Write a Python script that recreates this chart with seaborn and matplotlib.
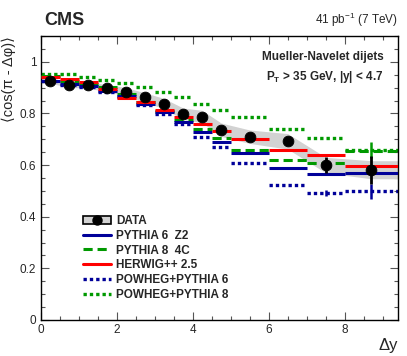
import numpy as np
import matplotlib
matplotlib.use('Agg')
import matplotlib.pyplot as plt
import seaborn as sns
from matplotlib.lines import Line2D
from matplotlib.patches import Patch
from matplotlib.ticker import MultipleLocator, FormatStrFormatter


# bins in delta y
edges = [0, 0.5, 1, 1.5, 2, 2.5, 3, 3.5, 4, 4.5, 5, 6, 7, 8, 9.4]

data = [0.927, 0.911, 0.910, 0.898, 0.884, 0.862, 0.838, 0.799, 0.788, 0.737, 0.710, 0.692, 0.600, 0.582]
dataErr = [0.003, 0.003, 0.003, 0.003, 0.004, 0.004, 0.005, 0.005, 0.006, 0.007, 0.008, 0.015, 0.03, 0.055]
dataSyst = [0.010, 0.010, 0.012, 0.014, 0.016, 0.018, 0.020, 0.022, 0.024, 0.026, 0.026, 0.030, 0.030, 0.035]

pythia6 = [0.927, 0.916, 0.907, 0.886, 0.868, 0.837, 0.804, 0.766, 0.727, 0.691, 0.646, 0.590, 0.564, 0.571]
pythia8 = [0.945, 0.926, 0.914, 0.903, 0.876, 0.845, 0.810, 0.775, 0.740, 0.705, 0.660, 0.620, 0.607, 0.655]
herwig = [0.940, 0.932, 0.921, 0.893, 0.861, 0.843, 0.815, 0.788, 0.759, 0.732, 0.700, 0.658, 0.640, 0.597]
powhegP6 = [0.924, 0.912, 0.904, 0.883, 0.864, 0.834, 0.799, 0.758, 0.710, 0.669, 0.609, 0.524, 0.492, 0.498]
powhegP8 = [0.952, 0.952, 0.942, 0.930, 0.918, 0.901, 0.882, 0.862, 0.837, 0.813, 0.785, 0.741, 0.704, 0.658]
powhegP6Err = [0, 0, 0, 0, 0, 0, 0, 0, 0, 0, 0, 0, 0.01, 0.03]
powhegP8Err = [0, 0, 0, 0, 0, 0, 0, 0, 0, 0, 0, 0, 0, 0.03]

labels = ['DATA', 'PYTHIA 6  Z2', 'PYTHIA 8  4C', 'HERWIG++ 2.5', 'POWHEG+PYTHIA 6', 'POWHEG+PYTHIA 8']

BLUE = '#000099'
GREEN = '#009900'
RED = '#ff0000'


sns.set_theme(style='ticks')
plt.rcParams['font.family'] = ['Liberation Sans', 'DejaVu Sans']
plt.rcParams['mathtext.fontset'] = 'custom'
plt.rcParams['mathtext.rm'] = 'Liberation Sans'
plt.rcParams['mathtext.bf'] = 'Liberation Sans:bold'

fig = plt.figure(figsize=(4.07, 3.56), dpi=100)
ax = fig.add_axes([40.5/407, 36/356, 357.5/407, 284/356])

edges = np.array(edges)
lo, hi = edges[:-1], edges[1:]
centers = (lo + hi) / 2
data = np.array(data)
syst = np.array(dataSyst)

# systematic band through the bin centres, stretched to the edges
bx = np.concatenate([[edges[0]], centers, [edges[-1]]])
bd = np.concatenate([[data[0]], data, [data[-1]]])
bs = np.concatenate([[syst[0]], syst, [syst[-1]]])
ax.fill_between(bx, bd - bs, bd + bs, color='#d2d2d2', lw=0, zorder=1)

dotted = (0, (1, 0.9))
dashed = (0, (3, 1.6))

ax.hlines(powhegP6, lo, hi, colors=BLUE, lw=2.4, linestyles=[dotted], zorder=2)
ax.hlines(powhegP8, lo, hi, colors=GREEN, lw=2.4, linestyles=[dotted], zorder=2)
ax.hlines(pythia8, lo, hi, colors=GREEN, lw=2.2, linestyles=[dashed], zorder=3)
ax.hlines(pythia6, lo, hi, colors=BLUE, lw=2.2, zorder=3)
ax.hlines(herwig, lo, hi, colors=RED, lw=2.2, zorder=3)

ax.errorbar(centers, powhegP6, yerr=powhegP6Err, fmt='none', ecolor=BLUE, elinewidth=1.8, ls=':', zorder=3)
ax.errorbar(centers, powhegP8, yerr=powhegP8Err, fmt='none', ecolor=GREEN, elinewidth=1.8, zorder=3)

ax.errorbar(centers, data, yerr=dataErr, fmt='none', ecolor='black', elinewidth=2, zorder=4)
sns.scatterplot(x=centers, y=data, color='black', s=60, edgecolor='black', zorder=5, ax=ax)

ax.set_xlim(0, 9.4)
ax.set_ylim(0, 1.1)
ax.xaxis.set_major_locator(MultipleLocator(2))
ax.xaxis.set_minor_locator(MultipleLocator(0.5))
ax.yaxis.set_major_locator(MultipleLocator(0.2))
ax.yaxis.set_minor_locator(MultipleLocator(0.05))
ax.yaxis.set_major_formatter(FormatStrFormatter('%g'))
ax.tick_params(which='both', direction='in', top=True, right=True, labelsize=8.5, width=0.8, color='#555555')
ax.tick_params(which='major', length=6, pad=3)
ax.tick_params(which='minor', length=3)
for s in ax.spines.values():
    s.set_linewidth(1.0)
    s.set_color('black')

ax.set_xlabel('Δy', loc='right', fontsize=12, labelpad=1)
ax.set_ylabel('⟨cos(π - Δφ)⟩', loc='top', fontsize=10.5)
ax.yaxis.set_label_coords(-0.068, 1.0)

ax.text(0.01, 1.025, 'CMS', transform=ax.transAxes, fontsize=13, fontweight='bold', ha='left', va='bottom')
ax.text(1.0, 1.025, '41 pb$^{-1}$ (7 TeV)', transform=ax.transAxes, fontsize=8.5, ha='right', va='bottom')
ax.text(0.96, 0.925, 'Mueller-Navelet dijets', transform=ax.transAxes, fontsize=8.5, fontweight='bold', ha='right', va='center')
ax.text(0.96, 0.855, r'P$_\mathbf{T}$ > 35 GeV, |y| < 4.7', transform=ax.transAxes, fontsize=8.5, fontweight='bold', ha='right', va='center')

handles = [
    (Patch(facecolor='#d2d2d2', edgecolor='black', lw=1.2), Line2D([], [], color='black', marker='o', ms=6.5, lw=0)),
    Line2D([], [], color=BLUE, lw=2.2),
    Line2D([], [], color=GREEN, lw=2.2, ls=dashed),
    Line2D([], [], color=RED, lw=2.2),
    Line2D([], [], color=BLUE, lw=2.4, ls=dotted),
    Line2D([], [], color=GREEN, lw=2.4, ls=dotted),
]
leg = ax.legend(handles, labels, loc='upper left', bbox_to_anchor=(0.12, 0.37), frameon=False,
                prop={'weight': 'bold', 'size': 8.5}, handlelength=2.3, handletextpad=0.5,
                labelspacing=0.24, borderpad=0, borderaxespad=0)

fig.savefig('out.png', dpi=100)
